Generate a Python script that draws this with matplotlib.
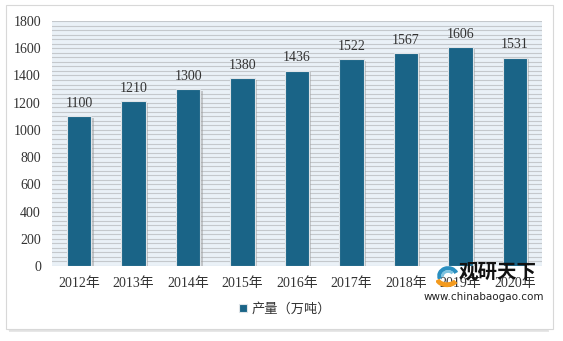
import matplotlib.pyplot as plt
from matplotlib.patches import Rectangle, Arc
import numpy as np

years = ["2012年", "2013年", "2014年", "2015年", "2016年", "2017年", "2018年", "2019年", "2020年"]
output = [1100, 1210, 1300, 1380, 1436, 1522, 1567, 1606, 1531]
legend_label = "产量（万吨）"
yticks = [0, 200, 400, 600, 800, 1000, 1200, 1400, 1600, 1800]

fonts = ["Liberation Serif", "Noto Sans CJK SC", "DejaVu Sans"]
bar_color = "#1a6487"

fig = plt.figure(figsize=(5.63, 3.41), dpi=100)
fig.patch.set_facecolor("white")

# outer frame with soft shadow
for i, a in enumerate([0.05, 0.08, 0.12]):
    fig.patches.append(Rectangle((8 / 563 + i * 0.001, 10 / 341 - i * 0.002),
                                 (548 - 8) / 563, (336 - 10) / 341 - 0.02,
                                 transform=fig.transFigure, facecolor="#888888",
                                 alpha=a, edgecolor="none", zorder=0))
fig.patches.append(Rectangle((6 / 563, 12 / 341), 547 / 563, 324 / 341,
                             transform=fig.transFigure, facecolor="white",
                             edgecolor="#d8d8d8", lw=0.8, zorder=1))

ax = fig.add_axes([52 / 563, 1 - 266 / 341, (542 - 52) / 563, (266 - 21) / 341])
ax.set_facecolor("#eaf1f7")
ax.set_zorder(2)

x = np.arange(len(years))
ax.set_xlim(-0.5, len(years) - 0.5)
ax.set_ylim(0, 1800)

# striped background
for yy in np.arange(0, 1800.1, 200 / 6):
    ax.axhline(yy, color="#c4c8cc", lw=0.8, zorder=1)

# bar shadows then bars
ax.bar(x + 0.03, np.array(output) - 8, width=0.47, bottom=-5, color="#9a9a9a",
       alpha=0.5, zorder=2)
bars = ax.bar(x, output, width=0.45, color=bar_color, edgecolor="#dfe4e8",
              lw=0.8, zorder=3, label=legend_label)

for xi, v in zip(x, output):
    ax.text(xi, v + 45, str(v), ha="center", va="bottom", fontsize=10,
            family=fonts, color="#333333", zorder=4)

ax.set_xticks(x)
ax.set_xticklabels(years, family=fonts, fontsize=10, color="#333333")
ax.set_yticks(yticks)
ax.set_yticklabels([str(t) for t in yticks], family=fonts, fontsize=10, color="#333333")
ax.tick_params(length=0, pad=8)
for s in ax.spines.values():
    s.set_visible(False)

leg = fig.legend(handles=[bars], labels=[legend_label], loc="center",
                 bbox_to_anchor=(285 / 563, 1 - 309 / 341), frameon=False,
                 prop={"family": fonts, "size": 9.5}, handlelength=0.6,
                 handleheight=0.6, handletextpad=0.4)
for t in leg.get_texts():
    t.set_color("#333333")

# watermark: simple logo swirl + text
wax = fig.add_axes([436 / 563, 1 - 288 / 341, 22 / 563, 22 / 341])
wax.set_zorder(5)
wax.set_xlim(-1, 1)
wax.set_ylim(-1, 1)
wax.axis("off")
wax.add_patch(Arc((0.1, 0.1), 1.6, 1.4, theta1=20, theta2=200, color="#2a8fc0", lw=3))
wax.add_patch(Arc((0.1, 0.1), 1.0, 0.8, theta1=30, theta2=190, color="#7fc3e0", lw=2))
wax.add_patch(Arc((0.0, -0.1), 1.8, 1.2, theta1=190, theta2=340, color="#f39a1e", lw=3.5))
fig.text(498 / 563, 1 - 272 / 341, "观研天下", ha="center", va="center",
         fontsize=14, fontweight="bold", family=["Noto Sans CJK SC"],
         color="#111111", zorder=5)
fig.text(484 / 563, 1 - 297 / 341, "www.chinabaogao.com", ha="center", va="center",
         fontsize=7.5, family=["DejaVu Sans"], color="#222222", zorder=5)

fig.savefig("out.png", dpi=100)
